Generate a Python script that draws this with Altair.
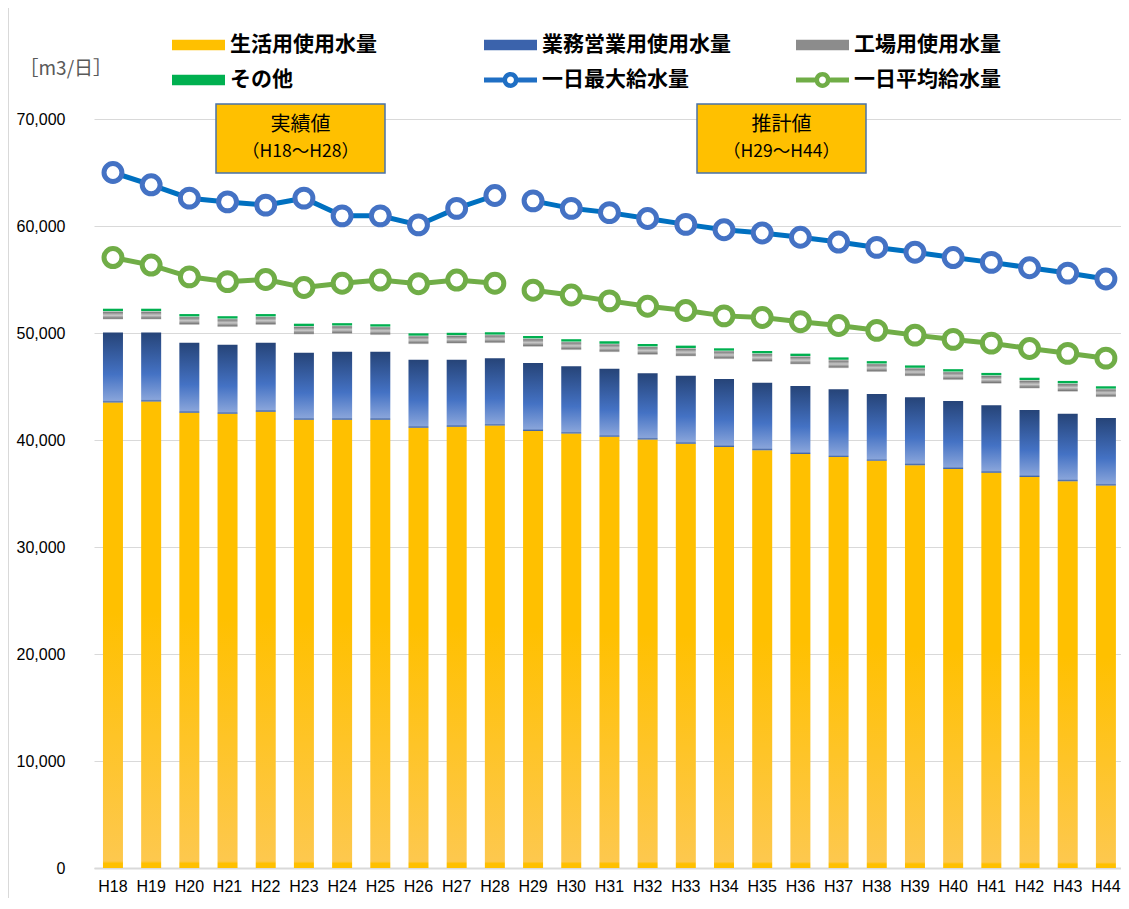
import altair as alt
import pandas as pd

# ---------------- data ----------------
years = ["H18", "H19", "H20", "H21", "H22", "H23", "H24", "H25", "H26", "H27", "H28",
         "H29", "H30", "H31", "H32", "H33", "H34", "H35", "H36", "H37", "H38", "H39",
         "H40", "H41", "H42", "H43", "H44"]
period = ["実績"] * 11 + ["推計"] * 16

living = [43500, 43600, 42550, 42450, 42650, 41900, 41900, 41900, 41150, 41250, 41350,
          40850, 40600, 40300, 40050, 39650, 39350, 39050, 38700, 38400, 38050, 37650,
          37300, 36950, 36550, 36150, 35750]
business = [6550, 6450, 6550, 6450, 6450, 6250, 6350, 6350, 6350, 6250, 6300,
            6350, 6300, 6350, 6200, 6350, 6350, 6300, 6350, 6350, 6250, 6350,
            6350, 6300, 6250, 6300, 6300]
# unfilled (blank) part of the stack between business and industrial use
blank = [1200, 1200, 1650, 1650, 1650, 1700, 1650, 1550, 1450, 1500, 1400,
         1500, 1500, 1550, 1700, 1800, 1850, 1950, 2000, 1950, 2050, 1950,
         1950, 2000, 2000, 2050, 1950]
industrial = [800, 800, 800, 800, 800, 800, 800, 800, 800, 800, 800,
              800, 800, 800, 800, 800, 800, 800, 800, 800, 800, 800,
              800, 800, 800, 800, 800]
other = [220, 220, 220, 220, 220, 220, 220, 220, 220, 220, 220,
         220, 220, 220, 220, 220, 220, 220, 220, 220, 220, 220,
         220, 220, 220, 220, 220]
max_supply = [65000, 63850, 62600, 62250, 61950, 62600, 60950, 60950, 60100, 61650, 62850,
              62350, 61650, 61250, 60700, 60150, 59650, 59350, 58950, 58500, 58000, 57550,
              57050, 56600, 56100, 55600, 55050]
avg_supply = [57050, 56350, 55250, 54800, 55000, 54250, 54650, 54950, 54600, 54950, 54650,
              54000, 53550, 53000, 52500, 52100, 51600, 51450, 51050, 50700, 50250, 49800,
              49400, 49050, 48550, 48100, 47650]

series_names = ["生活用使用水量", "業務営業用使用水量", "工場用使用水量",
                "その他", "一日最大給水量", "一日平均給水量"]

# ---------------- table ----------------
df = pd.DataFrame({
    "year": years, "period": period,
    "living": living, "business": business, "blank": blank,
    "industrial": industrial, "other": other,
    "max": max_supply, "avg": avg_supply,
})
df["c0"] = 0
df["c1"] = df["living"]
df["c2"] = df["c1"] + df["business"]
df["c3"] = df["c2"] + df["blank"]
df["c4"] = df["c3"] + df["industrial"]
df["c5"] = df["c4"] + df["other"]

JP = "Noto Sans CJK JP"
LAT = "Liberation Sans"

def grad(stops):
    return {"gradient": "linear", "x1": 0, "y1": 0, "x2": 0, "y2": 1,
            "stops": [{"offset": o, "color": c} for o, c in stops]}

g_yellow = grad([(0, "#FFC000"), (0.45, "#FFC000"), (0.985, "#FDC84E"), (0.99, "#FFC000"), (1, "#FFC000")])
g_blue = grad([(0, "#264478"), (0.6, "#4472C4"), (0.97, "#88A4DA"), (1, "#34589A")])
g_gray = grad([(0, "#E6E6E6"), (0.15, "#808080"), (0.5, "#C8C8C8"), (0.85, "#7A7A7A"), (1, "#E6E6E6")])

X = alt.X("year:N", sort=years, title=None,
          scale=alt.Scale(paddingInner=0.4763, paddingOuter=0.184, align=0.638),
          axis=alt.Axis(labelAngle=0, labelFont=LAT, labelFontSize=16, labelColor="#000000",
                        domain=True, domainColor="#D9D9D9", domainWidth=2,
                        ticks=False, tickSize=0, labelPadding=10, grid=False))

def Y(field):
    return alt.Y(field, scale=alt.Scale(domain=[0, 70000], nice=False),
                 title="［m3/日］",
                 axis=alt.Axis(values=list(range(0, 70001, 10000)),
                               labelExpr="format(datum.value, ',')",
                               labelFont=LAT, labelFontSize=16, labelColor="#000000",
                               domain=False, ticks=False, tickSize=0, labelPadding=29,
                               grid=True, gridColor="#D9D9D9", gridWidth=1,
                               titleAngle=0, titleX=-75, titleY=-51, titleAlign="left",
                               titleBaseline="middle", titleFont=JP, titleFontSize=19,
                               titleFontWeight="normal", titleColor="#595959"))

base = alt.Chart(df)

bar_living = base.mark_bar(fill=g_yellow).encode(x=X, y=Y("c0:Q"), y2="c1:Q")
bar_business = base.mark_bar(fill=g_blue).encode(x=X, y=Y("c1:Q"), y2="c2:Q")
bar_industrial = base.mark_bar(fill=g_gray).encode(x=X, y=Y("c3:Q"), y2="c4:Q")
bar_other = base.mark_bar(fill="#00B050").encode(x=X, y=Y("c4:Q"), y2="c5:Q")

line_max = base.mark_line(color="#0070C0", strokeWidth=5).encode(x=X, y=Y("max:Q"), detail="period:N")
pt_max = base.mark_point(filled=True, fill="white", stroke="#4472C4", strokeWidth=5,
                         size=320, opacity=1).encode(x=X, y=Y("max:Q"))
line_avg = base.mark_line(color="#70AD47", strokeWidth=5).encode(x=X, y=Y("avg:Q"), detail="period:N")
pt_avg = base.mark_point(filled=True, fill="white", stroke="#70AD47", strokeWidth=5,
                         size=320, opacity=1).encode(x=X, y=Y("avg:Q"))

# ---------------- legend (dummy off-canvas layer) ----------------
bar_path = "M-1,-0.2H1V0.2H-1Z"
line_path = ("M-1,-0.094H-0.29V0.094H-1Z M0.29,-0.094H1V0.094H0.29Z "
             "M0.3,0A0.3,0.3 0 1,1 -0.3,0A0.3,0.3 0 1,1 0.3,0Z "
             "M0.13,0A0.13,0.13 0 1,0 -0.13,0A0.13,0.13 0 1,0 0.13,0Z")
leg_colors = ["#FFC000", "#3B63AC", "#8C8C8C", "#00B050", "#1F6FC4", "#70AD47"]
leg_shapes = [bar_path, bar_path, bar_path, bar_path, line_path, line_path]

leg = alt.Legend(title=None, orient="none", legendX=78, legendY=-85, columns=3,
                 direction="horizontal", gridAlign="all", columnPadding=65, rowPadding=13,
                 symbolSize=2809, symbolStrokeWidth=0, clipHeight=22, symbolOpacity=1,
                 labelFont=JP, labelFontSize=21, labelFontWeight="bold", labelColor="#000000",
                 labelOffset=5, labelLimit=400, padding=0)

legend_df = pd.DataFrame({"series": series_names})
legend_layer = alt.Chart(legend_df).mark_point(filled=True).encode(
    x=alt.value(-900), y=alt.value(-900),
    color=alt.Color("series:N", sort=series_names,
                    scale=alt.Scale(domain=series_names, range=leg_colors), legend=leg),
    shape=alt.Shape("series:N", sort=series_names,
                    scale=alt.Scale(domain=series_names, range=leg_shapes), legend=leg),
)

# ---------------- annotation boxes ----------------
one = pd.DataFrame({"k": [0]})
ann = alt.Chart(one)
box1 = ann.mark_rect(fill="#FFC000", stroke="#4A72A8", strokeWidth=1.5).encode(
    x=alt.value(122), x2=alt.value(291), y=alt.value(-15), y2=alt.value(54))
box2 = ann.mark_rect(fill="#FFC000", stroke="#4A72A8", strokeWidth=1.5).encode(
    x=alt.value(603), x2=alt.value(772), y=alt.value(-15), y2=alt.value(54))
t1a = ann.mark_text(text="実績値", font=JP, fontSize=20, color="#000000", baseline="middle").encode(
    x=alt.value(206.5), y=alt.value(6))
t1b = ann.mark_text(text="（H18～H28）", font=JP, fontSize=17.5, color="#000000", baseline="middle").encode(
    x=alt.value(206.5), y=alt.value(33))
t2a = ann.mark_text(text="推計値", font=JP, fontSize=20, color="#000000", baseline="middle").encode(
    x=alt.value(687.5), y=alt.value(6))
t2b = ann.mark_text(text="（H29～H44）", font=JP, fontSize=17.5, color="#000000", baseline="middle").encode(
    x=alt.value(687.5), y=alt.value(33))

border = ann.mark_rule(color="#D9D9D9", strokeWidth=1).encode(
    x=alt.value(-85.5), y=alt.value(-111), y2=alt.value(779))

chart = alt.layer(
    legend_layer, bar_living, bar_business, bar_industrial, bar_other,
    line_max, pt_max, line_avg, pt_avg,
    box1, box2, t1a, t1b, t2a, t2b, border,
).resolve_scale(color="independent", shape="independent").properties(
    width=1027, height=749,
    padding={"left": 86, "top": 111, "right": 0, "bottom": 30},
    autosize=alt.AutoSizeParams(type="none"),
).configure_view(stroke=None)

chart.save("out.html", embed_options={"renderer": "svg", "actions": False})
